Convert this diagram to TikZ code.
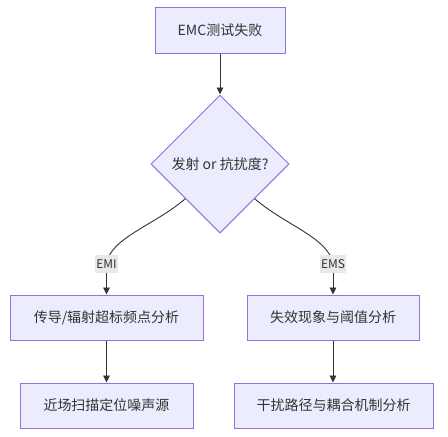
\documentclass[tikz,border=0pt]{standalone}
\usepackage{fontspec}
\setmainfont{Noto Sans CJK SC}
\usetikzlibrary{shapes.geometric,arrows.meta}
\definecolor{nodefill}{HTML}{ECECFF}
\definecolor{nodeline}{HTML}{9370DB}
\definecolor{edgecol}{HTML}{333333}
\definecolor{labbg}{HTML}{E8E8E8}
\definecolor{txt}{HTML}{333333}
\begin{document}
\begin{tikzpicture}[x=1pt,y=-1pt,
  box/.style={draw=nodeline,fill=nodefill,line width=1pt,text=txt,font=\fontsize{14}{16}\selectfont,inner sep=0pt},
  dia/.style={diamond,aspect=1,draw=nodeline,fill=nodefill,line width=1pt,text=txt,font=\fontsize{14}{16}\selectfont,inner sep=0pt,minimum width=138pt,minimum height=138pt},
  arr/.style={draw=edgecol,line width=0.9pt,-{Triangle[length=7pt,width=6.5pt]}},
  ln/.style={draw=edgecol,line width=0.9pt},
  lab/.style={fill=labbg,text=txt,font=\fontsize{12}{14}\selectfont,inner sep=1pt,minimum height=18pt}]
\fill[white] (0,0) rectangle (448,437);
\useasboundingbox (0,0) rectangle (448,437);
\node[box,minimum width=130pt,minimum height=46pt] (top) at (220,30) {EMC测试失败};
\node[dia] (d) at (220,164) {发射 or 抗扰度?};
\node[box,minimum width=193pt,minimum height=45pt] (m1) at (106.5,317.5) {传导/辐射超标频点分析};
\node[box,minimum width=172pt,minimum height=45pt] (m2) at (333,317.5) {失效现象与阈值分析};
\node[box,minimum width=173pt,minimum height=45pt] (b1) at (106.5,405.5) {近场扫描定位噪声源};
\node[box,minimum width=199pt,minimum height=45pt] (b2) at (333.5,405.5) {干扰路径与耦合机制分析};
\coordinate (c1) at (106.5,264);
\coordinate (c2) at (333,264);
\draw[arr] (top) -- (d.north);
\draw[ln] (d.south west) .. controls (155,225) and (110,238) .. (c1);
\draw[arr] (c1) -- (m1.north);
\draw[ln] (d.south east) .. controls (285,225) and (329,238) .. (c2);
\draw[arr] (c2) -- (m2.north);
\draw[arr] (m1) -- (b1);
\draw[arr] (m2.south) -- (m2.south |- b2.north);
\node[lab] (l1) at (c1) {EMI};
\node[lab] (l2) at (c2) {EMS};
\end{tikzpicture}
\end{document}
